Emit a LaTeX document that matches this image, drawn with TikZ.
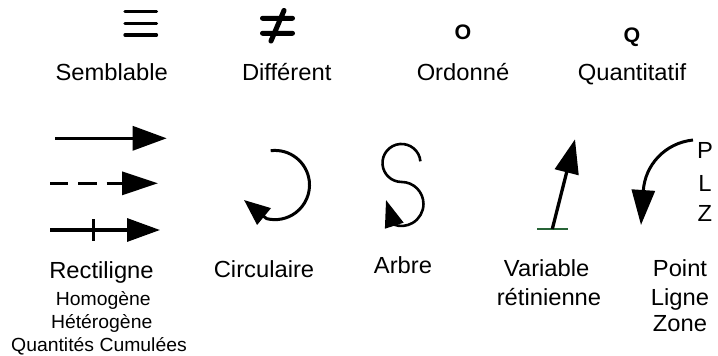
\documentclass[tikz,border=0pt]{standalone}
\usepackage{fontspec}
\setmainfont{Liberation Sans}[FakeStretch=1.02]
\usetikzlibrary{arrows.meta}
\definecolor{groundgreen}{RGB}{40,100,55}

\begin{document}
\begin{tikzpicture}[x=1pt,y=-1pt,
  every node/.style={inner sep=0pt,anchor=base},
  maintext/.style={font=\fontsize{23.3}{28}\selectfont},
  subtext/.style={font=\fontsize{19}{23}\selectfont},
  letter/.style={font=\fontsize{21}{25}\selectfont\bfseries},
  bar/.style={line width=3.3pt,line cap=round},
  pointer/.style={line width=3.3pt,-{Triangle[length=34pt,width=24pt]}}]

\useasboundingbox (0,0) rectangle (718,356);

% top row: kinds of relation
\foreach \y in {11.7,23.3,35}
  \draw[bar] (125,\y) -- (156.5,\y);
\draw[bar,line width=5pt] (262.5,18.3) -- (292.5,18.3) (262.5,33.3) -- (292.5,33.3)
  (284,10.5) -- (271,41);
\node[letter] (ordre) at (463,39.5) {O};
\node[letter] (quanti) at (632,42.5) {Q};

\node[maintext] (semblable) at (111.7,80) {Semblable};
\node[maintext] (different) at (286.7,80) {Différent};
\node[maintext] (ordonne) at (463,80) {Ordonné};
\node[maintext] (quantitatif) at (632,80) {Quantitatif};

% bottom row: kinds of reading
\draw[pointer] (55,138.3) -- (166.7,138.3);
\draw[pointer,dash pattern=on 18.3pt off 10pt,-{Triangle[length=36pt,width=23pt]}]
  (50,183.3) -- (158,183.3);
\draw[pointer,-{Triangle[length=33pt,width=23pt]}] (50,230) -- (160,230);
\draw[line width=3pt] (93.3,219.3) -- (93.3,240.7);

\draw[line width=3pt,-{Triangle[length=26pt,width=21pt]}]
  (270.7,150.7) arc[start angle=-97,end angle=104,radius=34.6] -- (244,200);

\draw[line width=2.6pt,-{Triangle[length=27pt,width=19pt]}]
  (420.4,161.3) arc[start angle=-5,end angle=-270,radius=19]
  arc[start angle=-90,end angle=110,radius=22] -- (386,200);

\draw[line width=2.6pt,groundgreen] (537.3,229) -- (568.3,229);
\draw[pointer] (552.3,229) -- (575,139.3);

\draw[line width=3pt,-{Triangle[length=35pt,width=23pt]}]
  (693,140) .. controls (665,143) and (645,165) .. (641,225);
\node[maintext] (p) at (705,158.3) {P};
\node[maintext] (l) at (705,191.7) {L};
\node[maintext] (z) at (705,221.7) {Z};

\node[maintext] (rectiligne) at (101.5,278) {Rectiligne};
\node[subtext] (homogene) at (103.3,305) {Homogène};
\node[subtext] (heterogene) at (101.7,328) {Hétérogène};
\node[subtext] (cumulees) at (99,351.7) {Quantités Cumulées};
\node[maintext] (circulaire) at (264,277) {Circulaire};
\node[maintext] (arbre) at (403,273) {Arbre};
\node[maintext] (variable) at (546.7,276.7) {Variable};
\node[maintext] (retinienne) at (549,305) {rétinienne};
\node[maintext] (point) at (680,276.7) {Point};
\node[maintext] (ligne) at (680,305) {Ligne};
\node[maintext] (zone) at (680,331.7) {Zone};
\end{tikzpicture}
\end{document}
